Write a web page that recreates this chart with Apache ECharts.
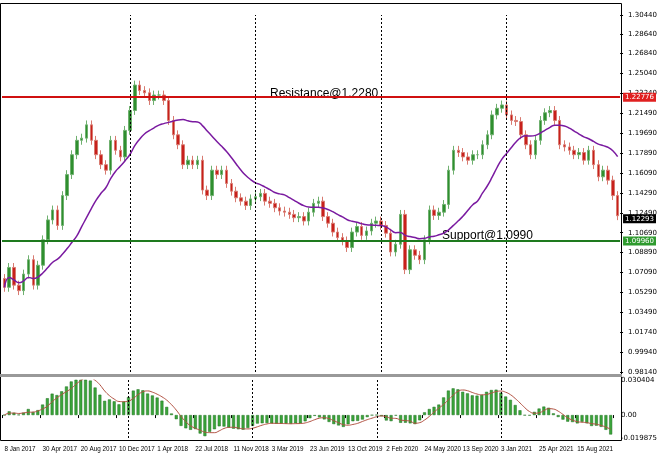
<!DOCTYPE html>
<html><head><meta charset="utf-8">
<script src="https://cdn.jsdelivr.net/npm/echarts@6/dist/echarts.min.js"></script>
<style>html,body{margin:0;padding:0;background:#fff}#c{width:660px;height:460px}</style>
</head><body><div id="c"></div>
<script>
const closes = [1.058,1.076,1.060,1.055,1.070,1.083,1.060,1.078,1.101,1.119,1.128,1.114,1.141,1.160,1.178,1.191,1.193,1.205,1.191,1.178,1.169,1.164,1.191,1.182,1.176,1.200,1.218,1.241,1.236,1.234,1.227,1.232,1.232,1.227,1.209,1.196,1.187,1.169,1.173,1.169,1.173,1.146,1.141,1.164,
1.160,1.164,1.152,1.145,1.139,1.136,1.132,1.138,1.140,1.143,1.136,1.134,1.130,1.127,1.126,1.124,1.121,1.122,1.118,1.126,1.134,1.136,1.122,1.116,1.108,1.103,1.100,1.094,1.108,1.113,1.105,1.109,1.116,1.118,1.114,1.107,1.090,1.097,1.124,1.074,1.092,1.087,
1.083,1.101,1.128,1.123,1.126,1.133,1.164,1.182,1.180,1.176,1.173,1.178,1.178,1.187,1.196,1.214,1.220,1.223,1.214,1.209,1.208,1.196,1.187,1.178,1.191,1.209,1.216,1.218,1.209,1.187,1.185,1.182,1.178,1.180,1.173,1.182,1.169,1.158,1.164,1.155,1.141,1.1228];
const firstOpen = 1.066;
const wick = 0.004;
const tickLabels = ["8 Jan 2017","30 Apr 2017","20 Aug 2017","10 Dec 2017","1 Apr 2018","22 Jul 2018","11 Nov 2018","3 Mar 2019","23 Jun 2019","13 Oct 2019","2 Feb 2020","24 May 2020","13 Sep 2020","3 Jan 2021","25 Apr 2021","15 Aug 2021"];
const yTicks = [0.98140,0.99940,1.01740,1.03490,1.05290,1.07090,1.08890,1.10690,1.12490,1.14290,1.16090,1.17890,1.19690,1.21490,1.23240,1.25040,1.26840,1.28640,1.30440];
const resistance = 1.2280, support = 1.0990;
const resLabel = "1.22776", supLabel = "1.09960", lastLabel = "1.12293";
const separators = [26, 52, 78, 104];

const N = closes.length;
const cats = closes.map((_, i) => "");
tickLabels.forEach((t, k) => { const i = Math.round(8.0 * k); if (i < N) cats[i] = t; });
const ohlc = closes.map((c, i) => {
  const o = i === 0 ? firstOpen : closes[i - 1];
  return [o, c, Math.min(o, c) - wick, Math.max(o, c) + wick];
});
const ma = closes.map((_, i) => { const s = Math.max(0, i - 15); const w = closes.slice(s, i + 1); return w.reduce((a, b) => a + b, 0) / w.length; });
function ema(arr, p) { const k = 2 / (p + 1); let e = arr[0]; return arr.map(v => (e = v * k + e * (1 - k))); }
const e1 = ema(closes, 5), e2 = ema(closes, 12);
const macd = closes.map((_, i) => e1[i] - e2[i]);
const sig = macd.map((_, i) => { const s = Math.max(0, i - 3); const w = macd.slice(s, i + 1); return w.reduce((a, b) => a + b, 0) / w.length; });

const chart = echarts.init(document.getElementById('c'));
const lblTag = (txt, bg, fg) => ({ show: true, position: 'end', formatter: txt, backgroundColor: bg, color: fg, fontSize: 7, padding: [1, 2], distance: 3, fontFamily: 'DejaVu Sans' });
chart.setOption({
  animation: false,
  grid: [
    { left: 2, right: 38, top: 15, height: 357, show: false },
    { left: 2, right: 38, top: 380, height: 58, show: false }
  ],
  xAxis: [
    { type: 'category', data: cats, gridIndex: 0, axisLabel: { show: false }, axisTick: { show: false }, axisLine: { show: false } },
    { type: 'category', data: cats, gridIndex: 1, axisLine: { show: false },
      axisTick: { show: true, interval: (i, v) => v !== "", length: 3, lineStyle: { color: '#000' } },
      axisLabel: { interval: (i, v) => v !== "", align: 'left', fontSize: 6.3, color: '#000', margin: 8, fontFamily: 'Liberation Sans Narrow, Liberation Sans' } }
  ],
  yAxis: [
    { gridIndex: 0, position: 'right', min: 0.9814, max: 1.3044, interval: 0.018, splitLine: { show: false },
      axisLine: { show: false }, axisTick: { show: true, length: 3, lineStyle: { color: '#000' } },
      axisLabel: { fontSize: 7, color: '#000', fontFamily: 'DejaVu Sans', formatter: (v) => { const idx = Math.round((v - 0.9814) / 0.018); return yTicks[idx] !== undefined ? yTicks[idx].toFixed(5) : ''; } } },
    { gridIndex: 1, position: 'right', min: -0.019875, max: 0.030404, splitLine: { show: false }, axisLine: { show: false },
      axisTick: { show: false },
      axisLabel: { fontSize: 7, color: '#000', fontFamily: 'DejaVu Sans', customValues: [-0.019875, 0, 0.030404], formatter: v => v === 0 ? '0.00' : v.toFixed(6) } }
  ],
  graphic: [
    { type: 'rect', shape: { x: 0.5, y: 3.5, width: 621, height: 372 }, style: { fill: 'none', stroke: '#000', lineWidth: 1 } },
    { type: 'rect', shape: { x: 0.5, y: 375.5, width: 621, height: 65 }, style: { fill: 'none', stroke: '#000', lineWidth: 1 } },
    { type: 'rect', shape: { x: 0, y: 374, width: 622, height: 3 }, style: { fill: '#999' } },
    { type: 'text', x: 270, y: 88, style: { text: 'Resistance@1.2280', fontSize: 12, fill: '#000', fontFamily: 'Liberation Sans' } },
    { type: 'text', x: 442, y: 230, style: { text: 'Support@1.0990', fontSize: 12, fill: '#000', fontFamily: 'Liberation Sans' } }
  ],
  series: [
    { type: 'candlestick', xAxisIndex: 0, yAxisIndex: 0, data: ohlc, barWidth: 3,
      itemStyle: { color: '#2f8f2f', color0: '#c8201c', borderColor: '#6fb06f', borderColor0: '#d87a70', borderWidth: 1 },
      markLine: { silent: true, symbol: 'none', data: [
        { yAxis: resistance, lineStyle: { color: '#d01010', width: 2, type: 'solid' }, label: lblTag(resLabel, '#e02020', '#fff') },
        { yAxis: support, lineStyle: { color: '#1e7a1e', width: 2, type: 'solid' }, label: lblTag(supLabel, '#2e9a2e', '#fff') },
        { yAxis: closes[N - 1], lineStyle: { color: 'rgba(0,0,0,0)', width: 1 }, label: lblTag(lastLabel, '#000', '#fff') },
        ...separators.map(s => ({ xAxis: s, lineStyle: { color: '#000', width: 1, type: [2, 2] }, label: { show: false } }))
      ] } },
    { type: 'line', xAxisIndex: 0, yAxisIndex: 0, data: ma, showSymbol: false, smooth: true, lineStyle: { color: '#7a1aa0', width: 1.5 } },
    { type: 'bar', xAxisIndex: 1, yAxisIndex: 1, data: macd, barWidth: 3, itemStyle: { color: '#3aa53a', borderColor: '#1f6f1f', borderWidth: 0.5 },
      markLine: { silent: true, symbol: 'none', label: { show: false }, data: separators.map(s => ({ xAxis: s, lineStyle: { color: '#000', width: 1, type: [2, 2] } })) } },
    { type: 'line', xAxisIndex: 1, yAxisIndex: 1, data: sig, showSymbol: false, smooth: true, lineStyle: { color: '#b05040', width: 1 } }
  ]
});
</script></body></html>
